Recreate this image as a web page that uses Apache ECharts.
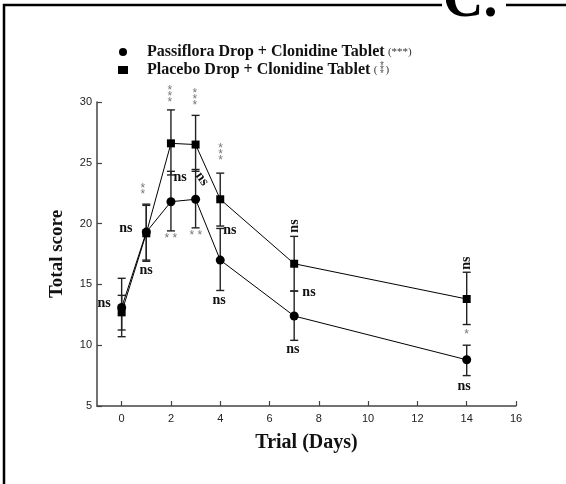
<!DOCTYPE html>
<html>
<head>
<meta charset="utf-8">
<script src="https://cdn.jsdelivr.net/npm/echarts@6/dist/echarts.min.js"></script>
<style>html,body{margin:0;padding:0;background:#fff}#c{width:566px;height:484px}</style>
</head>
<body>
<div id="c"></div>
<script>
// ---- data ----
var days = [0, 1, 2, 3, 4, 7, 14];
var passMean = [13.1, 19.3, 21.8, 22.0, 17.0, 12.4, 8.8];
var passLow  = [10.7, 17.0, 19.4, 19.65, 14.5, 10.4, 7.5];
var passHigh = [15.5, 21.6, 24.3, 24.45, 19.6, 14.45, 10.0];
var placMean = [12.7, 19.2, 26.6, 26.5, 22.0, 16.7, 13.8];
var placLow  = [11.25, 16.9, 24.0, 24.3, 19.8, 14.45, 11.7];
var placHigh = [14.1, 21.5, 29.35, 28.9, 24.15, 18.95, 16.0];
var xTicks = [0, 2, 4, 6, 8, 10, 12, 14, 16];
var seriesNames = ['Passiflora Drop + Clonidine Tablet', 'Placebo Drop + Clonidine Tablet'];
// annotation labels (data coords), text, kind (ns = bold serif, st = grey asterisks), rotation deg
var annX    = [-0.71, 0.86, 0.17, 0.99, 1.96, 2.97, 2.37, 3.26, 2.0, 3.01, 4.01, 4.39, 3.95, 7.0, 7.6, 6.95, 13.97, 14.0, 13.89];
var annY    = [13.46, 22.6, 19.64, 16.18, 30.4, 30.2, 23.84, 23.67, 18.73, 18.98, 25.65, 19.47, 13.7, 19.8, 14.34, 9.67, 16.75, 10.9, 6.62];
var annText = ['ns', '*\n*', 'ns', 'ns', '*\n*\n*', '*\n*\n*', 'ns', 'ns', '* *', '* *', '*\n*\n*', 'ns', 'ns', 'ns', 'ns', 'ns', 'ns', '*', 'ns'];
var annKind = ['ns', 'st', 'ns', 'ns', 'st', 'st', 'ns', 'ns', 'st', 'st', 'st', 'ns', 'ns', 'ns', 'ns', 'ns', 'ns', 'st', 'ns'];
var annRot  = [0, 0, 0, 0, 0, 0, 0, -55, 0, 0, 0, 0, 0, 90, 0, 0, 90, 0, 0];

var serifBold = '"Liberation Serif", "Times New Roman", serif';
var sans = '"Liberation Sans", Arial, sans-serif';
var chart = echarts.init(document.getElementById('c'));

function zip2(a, b) { return a.map(function (v, i) { return [v, b[i]]; }); }
function errData(lo, hi) { return days.map(function (d, i) { return [d, lo[i], hi[i]]; }); }
function errRender(params, api) {
  var x = api.value(0);
  var lo = api.coord([x, api.value(1)]);
  var hi = api.coord([x, api.value(2)]);
  var w = 4;
  var st = { stroke: '#222', lineWidth: 1.4 };
  return { type: 'group', children: [
    { type: 'line', shape: { x1: lo[0], y1: lo[1], x2: hi[0], y2: hi[1] }, style: st },
    { type: 'line', shape: { x1: lo[0] - w, y1: lo[1], x2: lo[0] + w, y2: lo[1] }, style: st },
    { type: 'line', shape: { x1: hi[0] - w, y1: hi[1], x2: hi[0] + w, y2: hi[1] }, style: st }
  ]};
}
var annData = annX.map(function (x, i) { return [x, annY[i], i]; });
function annRender(params, api) {
  var i = api.value(2);
  var p = api.coord([api.value(0), api.value(1)]);
  var ns = annKind[i] === 'ns';
  return {
    type: 'text', x: p[0], y: p[1], rotation: annRot[i] * Math.PI / 180,
    style: {
      text: annText[i],
      font: ns ? 'bold 14px ' + serifBold : '12px ' + sans,
      fill: ns ? '#111' : '#777',
      align: 'center', verticalAlign: 'middle',
      lineHeight: ns ? 14 : 6
    }
  };
}

// legend geometry
var legLeft = 113, legTop = 39, legIconW = 10, legPadText = 14, legFont = 16;
var ctx = document.createElement('canvas').getContext('2d');
ctx.font = 'bold ' + legFont + 'px ' + serifBold;
var w1 = ctx.measureText(seriesNames[1] + ' ').width;
ctx.font = '11px ' + serifBold;
var wp = ctx.measureText('(').width;
var textStart = legLeft + 5 + legIconW + 5 + legPadText;
var starX = textStart + w1 + wp + 4;

chart.setOption({
  animation: false,
  backgroundColor: '#fff',
  grid: { left: 97, right: 50, top: 102, bottom: 78, containLabel: false },
  legend: {
    orient: 'vertical', left: legLeft, top: legTop, itemGap: 2, itemWidth: legIconW, itemHeight: 8,
    data: [
      { name: seriesNames[0], icon: 'circle' },
      { name: seriesNames[1], icon: 'rect' }
    ],
    formatter: function (n) {
      return n === seriesNames[0] ? '{b|' + n + '} {s|(***)}' : '{b|' + n + '} {s|(   )}';
    },
    textStyle: {
      padding: [0, 0, 0, legPadText],
      rich: {
        b: { fontFamily: serifBold, fontWeight: 'bold', fontSize: legFont, lineHeight: 16, color: '#111' },
        s: { fontFamily: serifBold, fontSize: 11, lineHeight: 16, color: '#333' }
      }
    },
    itemStyle: { color: '#000' }
  },
  xAxis: {
    type: 'value', min: -1, max: 16,
    name: 'Trial (Days)', nameLocation: 'middle', nameGap: 27,
    nameTextStyle: { fontFamily: serifBold, fontWeight: 'bold', fontSize: 20, color: '#111' },
    axisLine: { onZero: false, lineStyle: { color: '#444', width: 1.5 } },
    axisTick: { inside: true, length: 5, customValues: xTicks, lineStyle: { color: '#444', width: 1.2 } },
    axisLabel: { customValues: xTicks, fontFamily: sans, fontSize: 11, color: '#222', margin: 7 },
    splitLine: { show: false }
  },
  yAxis: {
    type: 'value', min: 5, max: 30, interval: 5,
    name: 'Total score', nameLocation: 'middle', nameGap: 30,
    nameTextStyle: { fontFamily: serifBold, fontWeight: 'bold', fontSize: 19, color: '#111' },
    axisLine: { show: true, onZero: false, lineStyle: { color: '#444', width: 1.5 } },
    axisTick: { show: true, inside: true, length: 5, lineStyle: { color: '#444', width: 1.2 } },
    axisLabel: { fontFamily: sans, fontSize: 11, color: '#222', margin: 5 },
    splitLine: { show: false }
  },
  graphic: [
    { type: 'rect', shape: { x: 4, y: 5, width: 700, height: 700 }, style: { fill: 'none', stroke: '#000', lineWidth: 2.5 }, z: 0 },
    { type: 'rect', shape: { x: 442, y: 0, width: 64, height: 10 }, style: { fill: '#fff' }, z: 1 },
    { type: 'text', x: 443, y: -26, style: { text: 'C.', font: 'bold 56px "Liberation Serif", serif', fill: '#000' }, z: 2 },
    { type: 'text', x: starX, y: legTop + 5 + 18 + 8, style: { text: '*\n*\n*', font: '10px ' + sans, fill: '#555', align: 'center', verticalAlign: 'middle', lineHeight: 4 }, z: 5 }
  ],
  series: [
    { type: 'custom', name: 'errP', renderItem: errRender, data: errData(passLow, passHigh), z: 1, silent: true },
    { type: 'custom', name: 'errQ', renderItem: errRender, data: errData(placLow, placHigh), z: 1, silent: true },
    { type: 'line', name: seriesNames[0], data: zip2(days, passMean), symbol: 'circle', symbolSize: 9,
      lineStyle: { color: '#000', width: 1 }, itemStyle: { color: '#000' }, z: 3 },
    { type: 'line', name: seriesNames[1], data: zip2(days, placMean), symbol: 'rect', symbolSize: 8,
      lineStyle: { color: '#000', width: 1 }, itemStyle: { color: '#000' }, z: 3 },
    { type: 'custom', name: 'ann', renderItem: annRender, data: annData, z: 4, silent: true, clip: false }
  ]
});
</script>
</body>
</html>
